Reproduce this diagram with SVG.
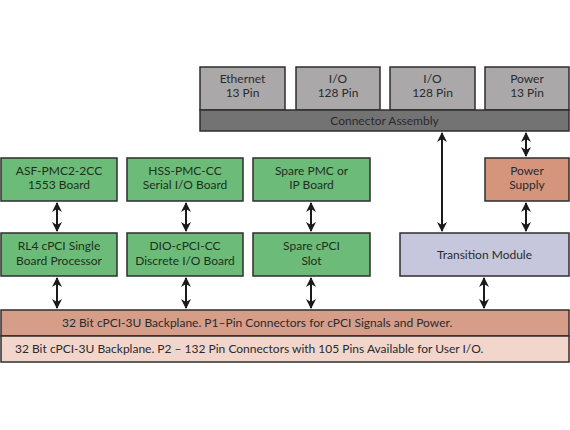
<svg xmlns="http://www.w3.org/2000/svg" width="570" height="430" viewBox="0 0 570 430">
<defs>
<style>
.box{stroke:#2e2e2e;stroke-width:1.5}
.gray{fill:#aaa8a8}
.dark{fill:#747373}
.green{fill:#6dbb78}
.salmon{fill:#d4957c}
.lav{fill:#c6c7dc}
.bar1{fill:#d69e88}
.bar2{fill:#f2d6cb}
text{font-family:Lato,"Open Sans","Liberation Sans",sans-serif;font-size:12px;fill:#2a2a2e;text-anchor:middle}
.g text{fill:#1c301d}
.conn line{stroke:#1a1a1a;stroke-width:2;marker-start:url(#ah);marker-end:url(#ah)}
</style>
<marker id="ah" viewBox="0 0 10 10" refX="9" refY="5" markerWidth="5" markerHeight="5" orient="auto-start-reverse" markerUnits="strokeWidth">
<path d="M0,0 L10,5 L0,10 L3,5 Z" fill="#1a1a1a"/>
</marker>
</defs>
<rect width="570" height="430" fill="#ffffff"/>

<g id="ethernet"><rect class="box gray" x="200" y="67" width="85" height="43"/><text x="242.5" y="82.5">Ethernet</text><text x="242.5" y="97">13 Pin</text></g>
<g id="io1"><rect class="box gray" x="296" y="67" width="84" height="43"/><text x="338" y="82.5">I/O</text><text x="338" y="97">128 Pin</text></g>
<g id="io2"><rect class="box gray" x="390" y="67" width="85" height="43"/><text x="432.5" y="82.5">I/O</text><text x="432.5" y="97">128 Pin</text></g>
<g id="power"><rect class="box gray" x="485" y="67" width="84" height="43"/><text x="527" y="82.5">Power</text><text x="527" y="97">13 Pin</text></g>
<g id="connector-assembly"><rect class="box dark" x="200" y="110" width="369" height="21"/><text x="384.5" y="125">Connector Assembly</text></g>

<g id="asf" class="g"><rect class="box green" x="1" y="158" width="116" height="43"/><text x="59" y="174.5">ASF-PMC2-2CC</text><text x="59" y="189">1553 Board</text></g>
<g id="hss" class="g"><rect class="box green" x="127" y="158" width="116" height="43"/><text x="185" y="174.5">HSS-PMC-CC</text><text x="185" y="189">Serial I/O Board</text></g>
<g id="spare-pmc" class="g"><rect class="box green" x="253" y="158" width="117" height="43"/><text x="311.5" y="174.5">Spare PMC or</text><text x="311.5" y="189">IP Board</text></g>
<g id="rl4" class="g"><rect class="box green" x="1" y="233" width="116" height="43"/><text x="59" y="250">RL4 cPCI Single</text><text x="59" y="264.5">Board Processor</text></g>
<g id="dio" class="g"><rect class="box green" x="127" y="233" width="116" height="43"/><text x="185" y="250">DIO-cPCI-CC</text><text x="185" y="264.5">Discrete I/O Board</text></g>
<g id="spare-cpci" class="g"><rect class="box green" x="253" y="233" width="117" height="43"/><text x="311.5" y="250">Spare cPCI</text><text x="311.5" y="264.5">Slot</text></g>

<g id="power-supply"><rect class="box salmon" x="485" y="158" width="84" height="43"/><text x="527" y="174.5">Power</text><text x="527" y="189">Supply</text></g>
<g id="transition"><rect class="box lav" x="400" y="233" width="169" height="43"/><text x="484.5" y="259">Transition Module</text></g>

<g id="backplane-p1"><rect class="box bar1" x="1" y="310" width="568" height="26"/><text x="62" y="327" style="text-anchor:start">32 Bit cPCI-3U Backplane. P1–Pin Connectors for cPCI Signals and Power.</text></g>
<g id="backplane-p2"><rect class="box bar2" x="1" y="336" width="568" height="26"/><text x="15" y="353" style="text-anchor:start">32 Bit cPCI-3U Backplane. P2 – 132 Pin Connectors with 105 Pins Available for User I/O.</text></g>

<g id="connectors" class="conn">
<line x1="57" y1="203" x2="57" y2="231"/>
<line x1="186" y1="203" x2="186" y2="231"/>
<line x1="311" y1="203" x2="311" y2="231"/>
<line x1="57" y1="278" x2="57" y2="308"/>
<line x1="186" y1="278" x2="186" y2="308"/>
<line x1="311" y1="278" x2="311" y2="308"/>
<line x1="484" y1="278" x2="484" y2="308"/>
<line x1="442" y1="133" x2="442" y2="231"/>
<line x1="526" y1="133" x2="526" y2="156"/>
<line x1="526" y1="203" x2="526" y2="231"/>
</g>
</svg>
